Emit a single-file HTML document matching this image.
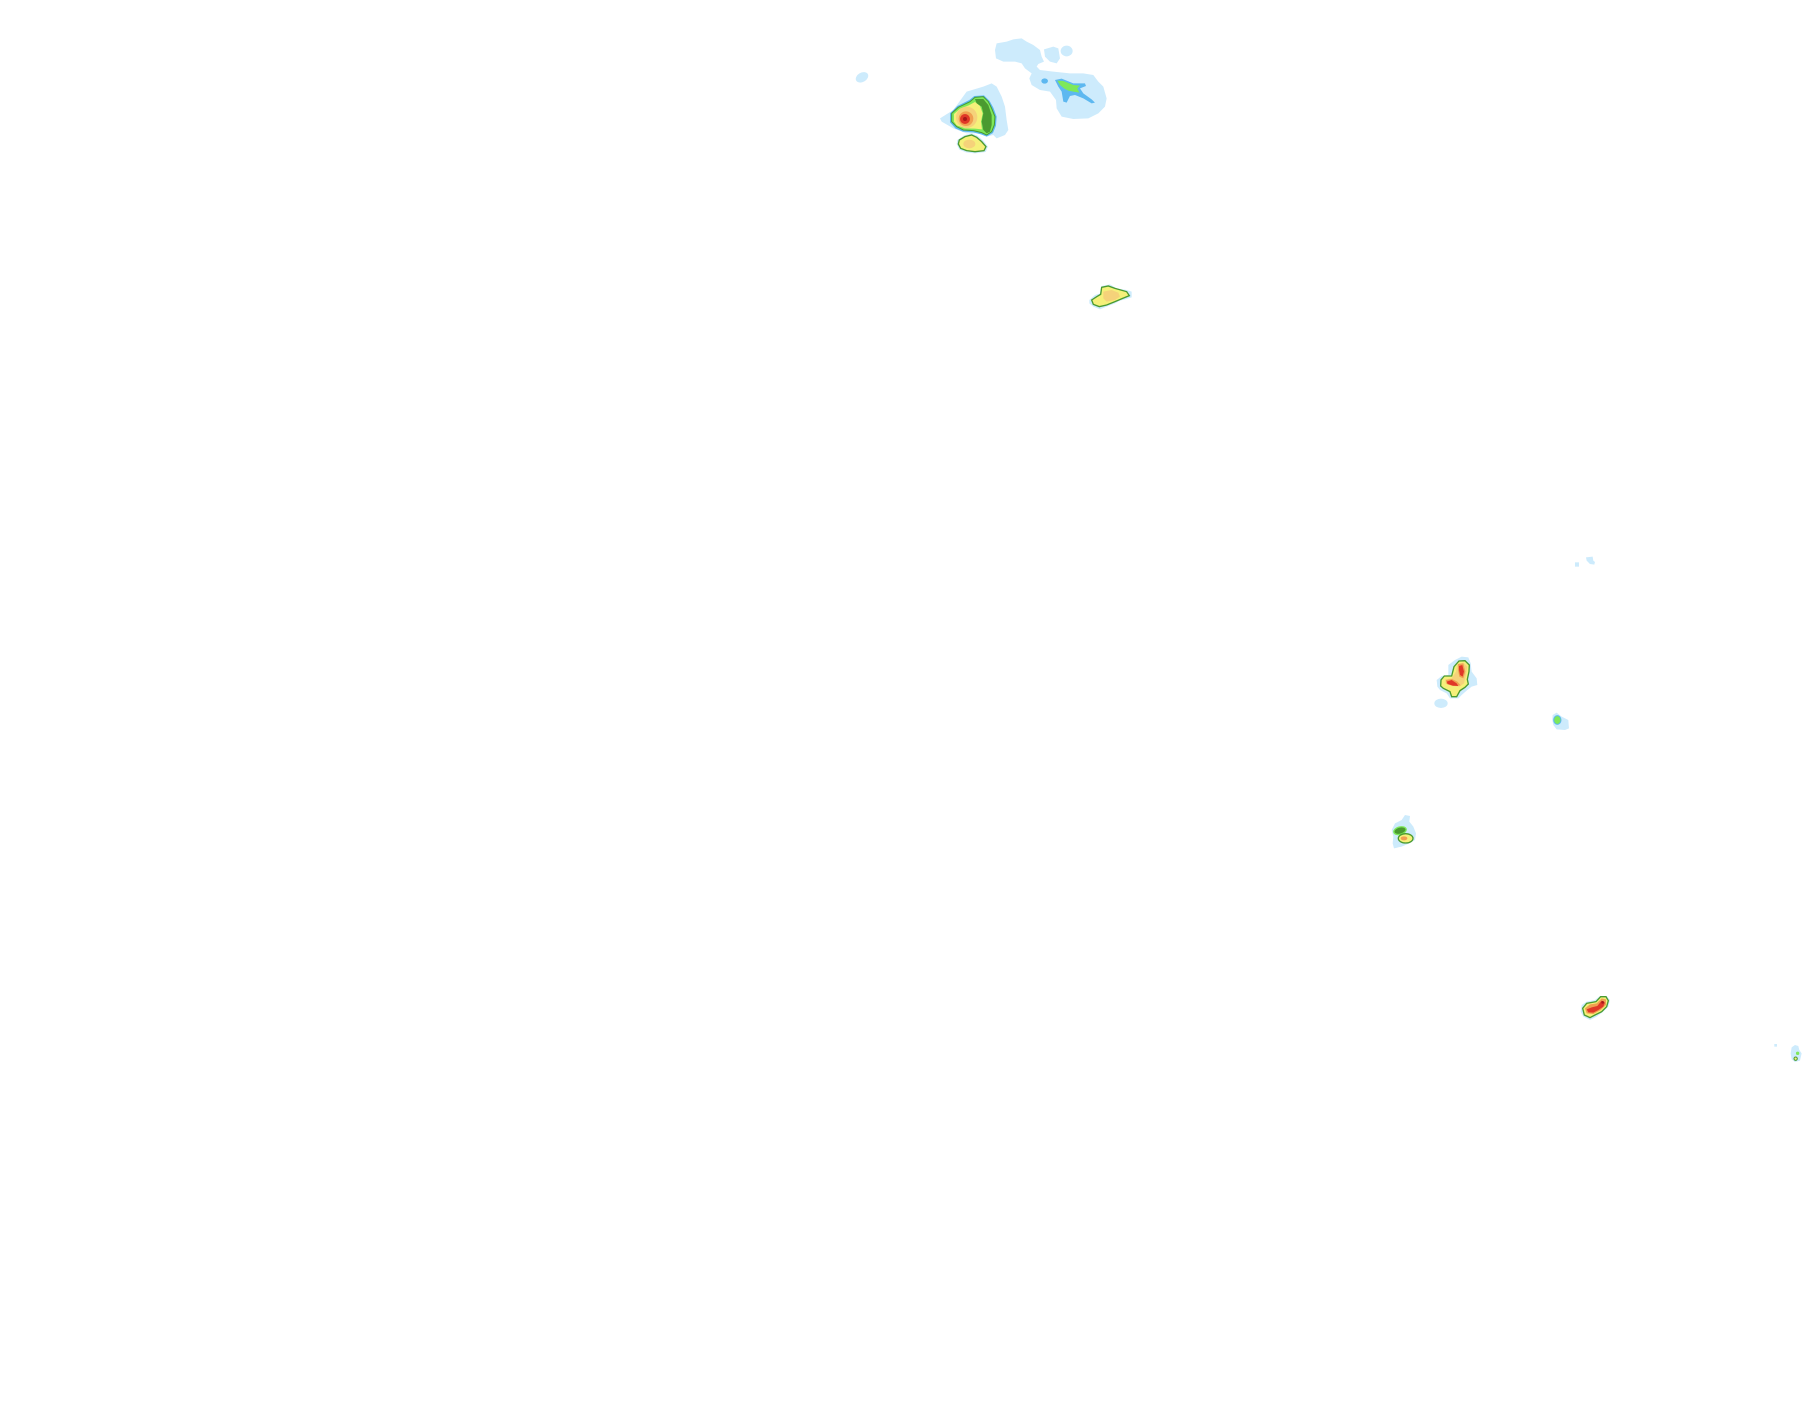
<!DOCTYPE html>
<html><head><meta charset="utf-8"><style>
html,body{margin:0;padding:0;background:#fff;}
svg{display:block;}
</style></head><body>
<svg width="1815" height="1424" viewBox="0 0 1815 1424" xmlns="http://www.w3.org/2000/svg">
<rect width="1815" height="1424" fill="#fff"/>
<!-- Region 1 -->
<g transform="translate(840,20) scale(0.3333)">
  <ellipse cx="66" cy="172" rx="20" ry="14" fill="#cdebfc" transform="rotate(-30 66 172)"/>
  <path d="M465,90 L470,70 L500,65 L520,58 L545,55 L560,65 L580,75 L600,90 L605,110 L612,125 L595,132 L590,140 L600,150 L640,155 L690,160 L730,160 L760,165 L775,185 L790,200 L800,235 L795,260 L775,280 L745,295 L700,297 L665,290 L650,265 L648,240 L630,215 L600,210 L575,195 L568,175 L575,160 L555,145 L545,130 L525,125 L490,125 L468,115 Z" fill="#cdebfc"/>
  <path d="M612,88 L640,80 L655,85 L660,115 L650,130 L630,125 L615,110 Z" fill="#cdebfc"/>
  <ellipse cx="680" cy="93" rx="18" ry="16" fill="#cdebfc"/>
  <ellipse cx="614" cy="183" rx="10" ry="8" fill="#5db8f0"/>
  <path d="M645,180 L665,176 L700,190 L735,190 L738,198 L720,205 L730,220 L755,238 L765,248 L755,250 L730,235 L705,225 L690,228 L680,248 L670,245 L665,215 L655,200 Z" fill="#5db8f0"/>
  <path d="M652,182 L670,183 L700,195 L720,197 L712,205 L718,218 L700,215 L685,212 L672,205 L660,195 Z" fill="#7ee85a"/>
  <!-- main cell -->
  <path d="M300,295 L340,270 L380,215 L430,200 L455,190 L470,200 L485,230 L495,260 L500,300 L505,330 L495,345 L470,355 L460,345 L440,350 L430,340 L380,340 L340,325 L305,305 Z" fill="#cdebfc"/>
  <path d="M330,280 L352,258 L388,240 L403,228 L432,226 L449,243 L460,263 L470,290 L468,317 L459,339 L440,350 L423,343 L400,337 L368,335 L346,325 L330,307 Z" fill="#5db8f0"/>
  <path d="M335,280 L355,262 L390,245 L405,232 L430,230 L445,245 L455,265 L465,290 L463,315 L455,335 L440,345 L425,338 L400,332 L370,330 L350,320 L335,305 Z" fill="#7ee85a" stroke="#4a9a30" stroke-width="3"/>
  <path d="M405,237 L430,237 L445,255 L455,285 L455,315 L450,335 L440,340 L430,330 L425,305 L430,280 L425,260 L410,250 Z" fill="#4a9a30"/>
  <path d="M342,282 L360,266 L386,256 L405,246 L420,258 L428,280 L423,305 L426,328 L405,326 L375,325 L350,316 L342,305 Z" fill="#f5f07a"/>
  <circle cx="380" cy="292" r="32" fill="#f5d27a"/>
  <circle cx="378" cy="296" r="22" fill="#f0a050"/>
  <circle cx="375" cy="297" r="15" fill="#e03828"/>
  <circle cx="375" cy="297" r="6" fill="#a81818"/>
  <!-- lower cell -->
  <path d="M352,360 L372,346 L395,340 L412,347 L430,362 L444,380 L437,396 L405,400 L378,397 L358,389 L350,372 Z" fill="#cdebfc"/>
  <path d="M358,360 L375,350 L395,345 L410,352 L425,365 L438,380 L432,392 L405,395 L380,392 L362,385 L355,372 Z" fill="#f5f07a" stroke="#4a9a30" stroke-width="4"/>
  <ellipse cx="388" cy="372" rx="18" ry="13" fill="#f5d27a"/>
</g>
<!-- Region 2 -->
<g transform="translate(1050,260) scale(0.3333)">
  <path d="M118,120 L135,105 L150,100 L155,78 L180,73 L200,85 L230,90 L245,95 L245,112 L225,118 L210,122 L195,130 L170,140 L150,148 L130,140 L118,130 Z" fill="#cdebfc"/>
  <path d="M125,120 L140,110 L152,103 L155,82 L175,78 L195,85 L230,95 L238,107 L218,115 L195,125 L170,135 L148,140 L130,133 Z" fill="#f5f07a" stroke="#4a9a30" stroke-width="4"/>
  <path d="M160,95 L185,90 L205,98 L210,110 L195,120 L170,125 L160,115 Z" fill="#f5d27a"/>
</g>
<!-- Region 3 -->
<g transform="translate(1380,540) scale(0.3333)">
  <rect x="585" y="67" width="12" height="13" fill="#cdebfc"/>
  <path d="M618,52 L638,50 L640,62 L645,66 L643,74 L630,72 L620,62 Z" fill="#cdebfc"/>
  <path d="M170,420 L185,408 L205,405 L205,375 L225,360 L245,350 L265,352 L272,370 L275,395 L290,415 L292,435 L275,440 L262,450 L245,465 L235,475 L210,475 L200,460 L180,450 L172,440 Z" fill="#cdebfc"/>
  <ellipse cx="183" cy="490" rx="20" ry="14" fill="#cdebfc"/>
  <path d="M183,420 L193,408 L215,408 L222,380 L237,363 L255,362 L268,375 L267,395 L262,418 L265,432 L255,442 L240,452 L230,470 L215,470 L210,455 L190,445 L182,438 Z" fill="#f5f07a" stroke="#4a9a30" stroke-width="4"/>
  <path d="M195,418 L215,415 L228,395 L232,372 L250,368 L262,380 L258,405 L252,430 L238,440 L215,438 L197,430 Z" fill="#f5d27a"/>
  <path d="M198,420 L216,417 L232,425 L242,436 L220,438 L200,432 Z" fill="#f0a050"/>
  <path d="M200,425 L215,420 L230,430 L235,438 L218,437 L203,432 Z" fill="#e03828"/>
  <path d="M234,372 L250,370 L256,395 L250,415 L238,410 L234,390 Z" fill="#f0a050"/>
  <path d="M237,378 L247,375 L252,395 L248,410 L240,405 L237,390 Z" fill="#e03828"/>
  <path d="M518,525 L530,518 L545,530 L565,540 L567,565 L555,570 L530,568 L520,555 L517,540 Z" fill="#cdebfc"/>
  <ellipse cx="532" cy="540" rx="11" ry="13" fill="#7ee85a" stroke="#5db8f0" stroke-width="3"/>
</g>
<!-- Region 4 -->
<g transform="translate(1370,790) scale(0.3333)">
  <path d="M65,120 L75,100 L95,90 L105,75 L120,78 L118,95 L130,110 L138,130 L135,150 L118,160 L95,170 L72,175 L68,160 L70,140 Z" fill="#cdebfc"/>
  <ellipse cx="90" cy="122" rx="19" ry="11" transform="rotate(-15 90 122)" fill="#4a9a30" stroke="#7ee85a" stroke-width="4"/>
  <ellipse cx="107" cy="145" rx="22" ry="14" fill="#f5f07a" stroke="#4a9a30" stroke-width="4"/>
  <ellipse cx="102" cy="145" rx="10" ry="6" fill="#f0a050"/>
</g>
<!-- Region 5 -->
<g transform="translate(1540,970) scale(0.3333)">
  <path d="M125,105 L140,95 L165,90 L180,78 L200,78 L210,90 L205,110 L190,125 L170,140 L150,150 L130,140 L122,125 Z" fill="#cdebfc"/>
  <path d="M128,115 L140,100 L168,95 L182,80 L198,80 L205,92 L200,110 L185,125 L165,135 L150,143 L133,135 Z" fill="#f5f07a" stroke="#4a9a30" stroke-width="4"/>
  <path d="M135,115 L150,103 L170,100 L185,85 L198,88 L198,105 L182,120 L160,132 L140,130 Z" fill="#f0a050"/>
  <path d="M140,118 L155,112 L172,108 L185,92 L195,98 L190,110 L175,120 L160,128 L145,127 Z" fill="#e03828"/>
  <circle cx="188" cy="97" r="4" fill="#a81818"/>
  <rect x="703" y="222" width="8" height="8" fill="#cdebfc"/>
  <path d="M755,232 L765,225 L775,228 L778,240 L785,250 L780,272 L765,276 L755,268 L752,250 Z" fill="#cdebfc"/>
  <circle cx="773" cy="250" r="5" fill="#7ee85a"/>
  <circle cx="767" cy="266" r="5" fill="#f5f07a" stroke="#4a9a30" stroke-width="3"/>
</g>
</svg>
</body></html>
